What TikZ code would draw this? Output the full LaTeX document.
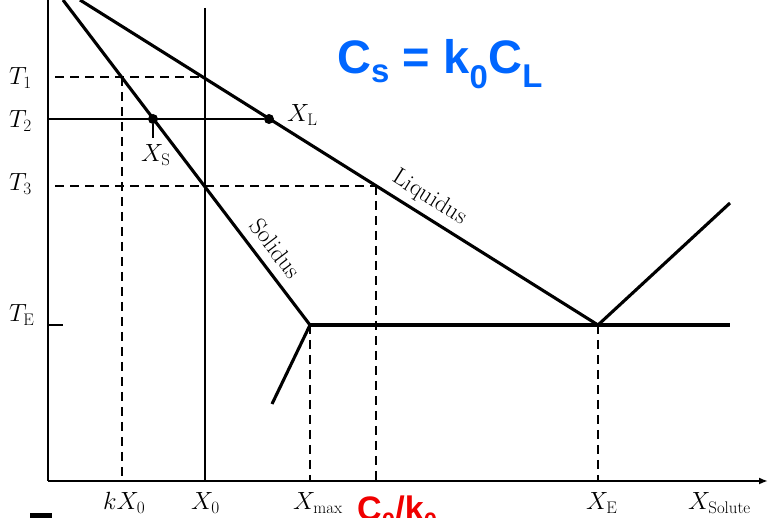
\documentclass[tikz,border=0pt]{standalone}
\usepackage{amsmath}
\usepackage{fontspec}
\usepackage{tikz}
\usetikzlibrary{arrows.meta}
\newfontfamily\arialfont{Liberation Sans}
\definecolor{eqblue}{RGB}{0,102,255}
\definecolor{eqred}{RGB}{240,0,0}

\begin{document}
\begin{tikzpicture}[x=1pt, y=-1pt, >=Latex,
  every node/.style={font=\fontsize{24}{26}\selectfont, inner sep=1pt},
  lbl/.style={anchor=base west, inner sep=0pt},
  phase/.style={line width=3.1pt},
  axisline/.style={line width=2.3pt},
  tie/.style={line width=1.7pt},
  guide/.style={line width=1.7pt, dash pattern=on 9pt off 6pt},
  dot/.style={circle, fill=black, inner sep=0pt, minimum size=10pt}]
\useasboundingbox (0,0) rectangle (769,518);
% axes
\coordinate (O) at (48,481);
\coordinate (ytop) at (48,0);
\coordinate (xend) at (768,481);
\draw[axisline] (ytop) -- (O);
\draw[axisline,-{Latex[length=9pt,width=7pt]}] (O) -- (xend);
% phase boundaries
\coordinate (ltop) at (80,0);
\coordinate (stop) at (63,0);
\coordinate (eut) at (310,325);
\coordinate (xe) at (598,325);
\coordinate (eutend) at (730,325);
\coordinate (branch) at (272,404);
\coordinate (rtop) at (730,203);
\draw[phase] (ltop) -- node[pos=0.656,sloped,above=5pt]{Liquidus} (xe);
\draw[phase] (stop) -- node[pos=0.80,sloped,above=8pt]{Solidus} (eut);
\draw[phase] (eut) -- (eutend);
\draw[phase] (eut) -- (branch);
\draw[phase] (xe) -- (rtop);
% temperatures
\coordinate (tone0) at (55,77);
\coordinate (tonel) at (205,77);
\coordinate (tones) at (122,77);
\coordinate (ttwo0) at (48,119);
\coordinate (tthree0) at (55,186);
\coordinate (tthreel) at (376,186);
\coordinate (tE0) at (48,325);
\coordinate (tE1) at (63,325);
\node[dot] (xl) at (269,119) {};
\node[dot] (xs) at (153,119) {};
\coordinate (xstick) at (153,138);
\draw[guide] (tone0) -- (tonel);
\draw[tie] (ttwo0) -- (xl);
\draw[tie] (xs) -- (xstick);
\draw[guide] (tthree0) -- (tthreel);
\draw[tie] (tE0) -- (tE1);
\node[lbl] (T1) at (9,85) {$T_1$};
\node[lbl] (T2) at (9,128) {$T_2$};
\node[lbl] (T3) at (9,191) {$T_3$};
\node[lbl] (TE) at (9,322) {$T_{\mathrm{E}}$};
\node[lbl] (XL) at (287,122) {$X_{\mathrm{L}}$};
\node[lbl] (XS) at (141,162) {$X_{\mathrm{S}}$};
% compositions
\coordinate (x0top) at (205,8);
\coordinate (kx0) at (122,481);
\coordinate (x0) at (205,481);
\coordinate (xmax) at (310,481);
\coordinate (c0k0) at (376,481);
\coordinate (xeb) at (598,481);
\draw[guide] (tones) -- (kx0);
\draw[tie] (x0top) -- (x0);
\draw[guide] (eut) -- (xmax);
\draw[guide] (tthreel) -- (c0k0);
\draw[guide] (xe) -- (xeb);
\node[lbl] (lkx0) at (103,510) {$kX_0$};
\node[lbl] (lx0) at (191,510) {$X_0$};
\node[lbl] (lxmax) at (293,510) {$X_{\mathrm{max}}$};
\node[lbl] (lxe) at (586,510) {$X_{\mathrm{E}}$};
\node[lbl] (lxsol) at (688,510) {$X_{\mathrm{Solute}}$};
\node[anchor=base west, inner sep=0pt, text=eqred, font=\arialfont\bfseries\fontsize{34}{36}\selectfont] (ck) at (357,521) {C\textsubscript{0}/k\textsubscript{0}};
% partition relation
\node[text=eqblue, font=\arialfont\bfseries\fontsize{47}{50}\selectfont] (eq) at (440,64) {C\textsubscript{s} = k\textsubscript{0}C\textsubscript{L}};
\fill (30,513) rectangle (52,518);
\end{tikzpicture}
\end{document}
